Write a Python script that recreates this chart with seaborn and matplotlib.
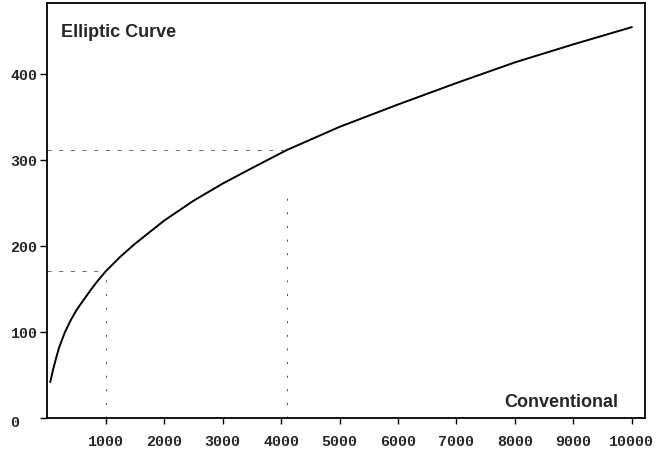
import matplotlib
matplotlib.use("Agg")
import matplotlib.pyplot as plt
import seaborn as sns
import pandas as pd

# Conventional (RSA) key size vs equivalent elliptic-curve key size
conventional_bits = [50, 100, 150, 200, 300, 400, 500, 625, 750, 875, 1000, 1250, 1500,
                     2000, 2500, 3000, 3500, 4096, 5000, 6000, 7000, 8000, 9000, 10000]
elliptic_bits = [42, 57, 70, 82, 100, 114, 126, 138, 150, 161, 171, 188, 203,
                 230, 253, 273, 291, 312, 339, 365, 390, 414, 435, 455]

marked_conventional = [1000, 4096]
marked_elliptic = [171.5, 311.5]

x_ticks = [1000, 2000, 3000, 4000, 5000, 6000, 7000, 8000, 9000, 10000]
y_ticks = [0, 100, 200, 300, 400]
y_tick_labels = ["", "100", "200", "300", "400"]

df = pd.DataFrame({"Conventional": conventional_bits, "Elliptic Curve": elliptic_bits})

sns.set_style("ticks")
plt.rcParams["font.family"] = ["Liberation Sans", "DejaVu Sans"]

fig = plt.figure(figsize=(6.57, 4.49), dpi=100)
ax = fig.add_axes([0.072, 0.0684, 0.910, 0.9248])

sns.lineplot(data=df, x="Conventional", y="Elliptic Curve", ax=ax,
             color="black", linewidth=1.4, sort=True)

# guide lines
for xv, yv in zip(marked_conventional, marked_elliptic):
    ax.plot([0, xv], [yv, yv], color="#555555", linewidth=0.6,
            linestyle=(0, (5, 9)))
ax.plot([marked_conventional[0]] * 2, [0, marked_elliptic[0]], color="#444444",
        linewidth=0.7, linestyle=(0, (2, 12)))
ax.plot([marked_conventional[1]] * 2, [0, 265], color="#444444",
        linewidth=0.7, linestyle=(0, (2, 12)))

ax.set_xlim(0, 10228)
ax.set_ylim(0, 483)
ax.set_xticks(x_ticks)
ax.set_xticklabels([str(t) for t in x_ticks])
ax.set_yticks(y_ticks)
ax.set_yticklabels(y_tick_labels)
ax.set_xlabel("")
ax.set_ylabel("")

for lab in ax.get_xticklabels() + ax.get_yticklabels():
    lab.set_fontfamily("Liberation Mono")
    lab.set_fontweight("bold")
    lab.set_fontsize(10.8)

ax.tick_params(axis="x", direction="out", length=4, width=1, pad=8, color="black")
ax.tick_params(axis="y", direction="out", length=5, width=1, pad=2, color="black")

for sp in ax.spines.values():
    sp.set_visible(True)
    sp.set_linewidth(1.3)
    sp.set_color("black")

ax.text(-0.054, -0.011, "0", transform=ax.transAxes, ha="center", va="center",
        fontfamily="Liberation Mono", fontweight="bold", fontsize=10.8)

ax.text(0.023, 0.949, "Elliptic Curve", transform=ax.transAxes, ha="left", va="top",
        fontsize=13, fontweight="bold")
ax.text(0.955, 0.027, "Conventional", transform=ax.transAxes, ha="right", va="baseline",
        fontsize=13, fontweight="bold")

fig.savefig("out.png", dpi=100)
